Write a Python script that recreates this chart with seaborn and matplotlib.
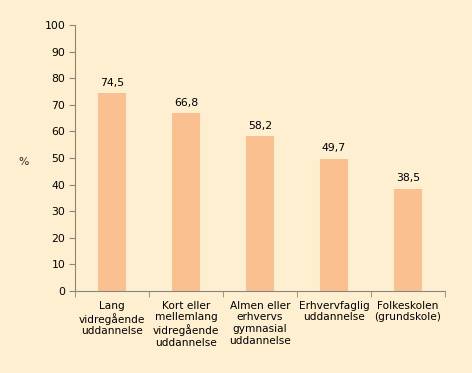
import matplotlib
matplotlib.use("Agg")
import matplotlib.pyplot as plt
import seaborn as sns
import pandas as pd
import numpy as np

categories = ["Lang\nvidregående\nuddannelse",
              "Kort eller\nmellemlang\nvidregående\nuddannelse",
              "Almen eller\nerhvervs\ngymnasial\nuddannelse",
              "Erhvervfaglig\nuddannelse",
              "Folkeskolen\n(grundskole)"]
values = [74.5, 66.8, 58.2, 49.7, 38.5]
value_labels = ["74,5", "66,8", "58,2", "49,7", "38,5"]

bg = "#FEEFD0"
bar_color = "#FAC090"
axis_color = "#868686"

sns.set_style("white")
plt.rcParams['font.family'] = ['DejaVu Sans']

fig = plt.figure(figsize=(4.72, 3.73), dpi=100, facecolor=bg)
ax = fig.add_axes([75/472, 1 - 291/373, 370/472, 266/373])
ax.set_facecolor(bg)

df = pd.DataFrame({"cat": categories, "val": values})
sns.barplot(data=df, x="cat", y="val", color=bar_color, saturation=1, width=0.39,
            linewidth=0, edgecolor="none", ax=ax)

for i, (v, lab) in enumerate(zip(values, value_labels)):
    ax.text(i, v + 2, lab, ha="center", va="bottom", fontsize=7.8, color="black")

ax.set_ylim(0, 100)
ax.set_xlim(-0.5, 4.5)
ax.set_yticks(range(0, 101, 10))
ax.tick_params(axis="y", labelsize=7.8, length=4, color=axis_color, direction="out",
               left=True, pad=3, labelcolor="black")
ax.tick_params(axis="x", which="major", labelsize=7.6, length=0, pad=7, labelcolor="black")
ax.set_xticks(np.arange(-0.5, 5, 1), minor=True)
ax.tick_params(axis="x", which="minor", length=4, color=axis_color, direction="out", bottom=True)
for t in ax.get_xticklabels():
    t.set_linespacing(1.2)
ax.set_xlabel("")
ax.set_ylabel("")
for s in ["top", "right"]:
    ax.spines[s].set_visible(False)
for s in ["left", "bottom"]:
    ax.spines[s].set_color(axis_color)
    ax.spines[s].set_linewidth(0.8)

fig.text(24/472, 1 - 162/373, "%", fontsize=7.8, ha="center", va="center")

fig.savefig("out.png", dpi=100, facecolor=bg)
